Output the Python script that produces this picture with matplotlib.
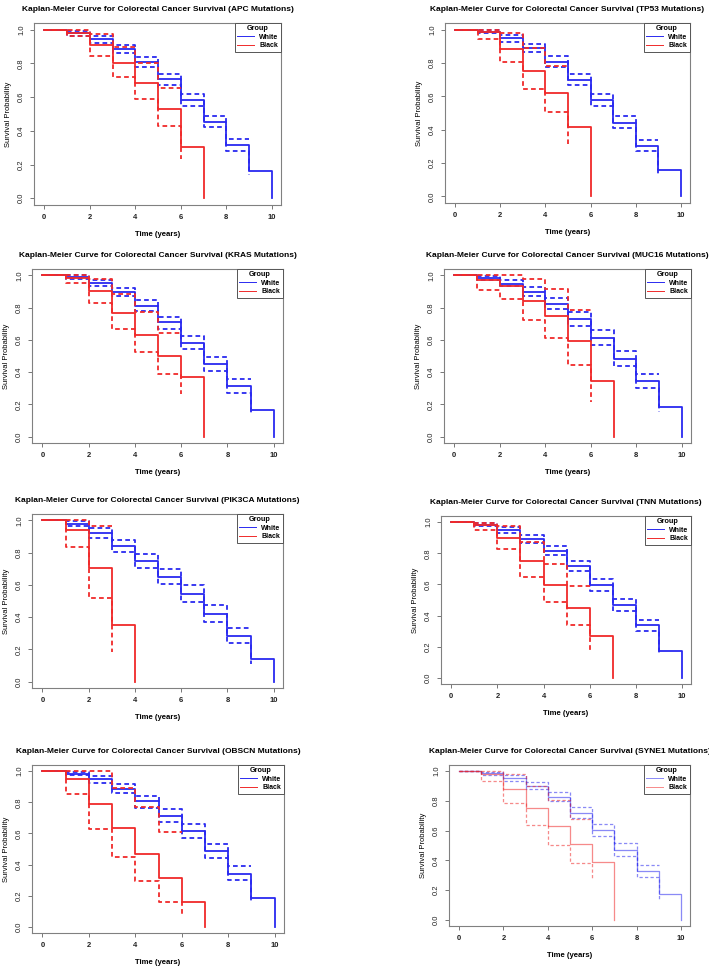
import numpy as np
import matplotlib
matplotlib.use('Agg')
import matplotlib.pyplot as plt
from matplotlib.lines import Line2D
from matplotlib import rcParams
rcParams['font.family'] = 'sans-serif'
rcParams['font.sans-serif'] = ['Liberation Sans', 'DejaVu Sans']

# survival estimates, one value per yearly interval
# (CI arrays: last value is the end stub of the dashed line)
GENES = ['APC', 'TP53', 'KRAS', 'MUC16', 'PIK3CA', 'TNN', 'OBSCN', 'SYNE1']

APC_W = [1, 0.980, 0.943, 0.886, 0.807, 0.706, 0.584, 0.454, 0.314, 0.162]
APC_W_HI = [1, 0.995, 0.963, 0.911, 0.836, 0.740, 0.621, 0.489, 0.351, 0.351]
APC_W_LO = [1, 0.965, 0.923, 0.864, 0.779, 0.671, 0.550, 0.420, 0.282, 0.140]
APC_B = [1, 0.980, 0.909, 0.801, 0.684, 0.529, 0.302]
APC_B_HI = [1, 1.0, 0.974, 0.899, 0.805, 0.653, 0.653]
APC_B_LO = [1, 0.964, 0.844, 0.718, 0.588, 0.426, 0.233]

TP53_W = [1, 0.988, 0.952, 0.890, 0.809, 0.701, 0.580, 0.442, 0.305, 0.157]
TP53_W_HI = [1, 1.0, 0.968, 0.916, 0.841, 0.735, 0.616, 0.480, 0.341, 0.341]
TP53_W_LO = [1, 0.980, 0.928, 0.869, 0.779, 0.667, 0.540, 0.408, 0.273, 0.131]
TP53_B = [1, 0.984, 0.884, 0.755, 0.622, 0.416]
TP53_B_HI = [1, 1.0, 0.978, 0.890, 0.783, 0.783]
TP53_B_LO = [1, 0.944, 0.807, 0.645, 0.504, 0.313]

KRAS_W = [1, 0.990, 0.952, 0.896, 0.812, 0.708, 0.580, 0.449, 0.313, 0.163]
KRAS_W_HI = [1, 1.0, 0.971, 0.923, 0.848, 0.745, 0.622, 0.491, 0.357, 0.357]
KRAS_W_LO = [1, 0.981, 0.933, 0.871, 0.781, 0.670, 0.541, 0.407, 0.273, 0.138]
KRAS_B = [1, 0.985, 0.902, 0.766, 0.633, 0.499, 0.367]
KRAS_B_HI = [1, 1.0, 0.981, 0.883, 0.772, 0.645, 0.645]
KRAS_B_LO = [1, 0.952, 0.831, 0.668, 0.522, 0.386, 0.262]

MUC16_W = [1, 0.984, 0.949, 0.899, 0.825, 0.730, 0.613, 0.484, 0.342, 0.185]
MUC16_W_HI = [1, 0.998, 0.973, 0.928, 0.860, 0.774, 0.660, 0.533, 0.389, 0.389]
MUC16_W_LO = [1, 0.971, 0.932, 0.872, 0.790, 0.687, 0.568, 0.440, 0.300, 0.154]
MUC16_B = [1, 0.969, 0.934, 0.844, 0.749, 0.591, 0.344]
MUC16_B_HI = [1, 1.0, 1.0, 0.977, 0.916, 0.788, 0.788]
MUC16_B_LO = [1, 0.907, 0.854, 0.726, 0.613, 0.444, 0.212]

PIK3CA_W = [1, 0.979, 0.923, 0.844, 0.749, 0.649, 0.546, 0.421, 0.280, 0.139]
PIK3CA_W_HI = [1, 0.996, 0.954, 0.878, 0.793, 0.699, 0.600, 0.475, 0.330, 0.330]
PIK3CA_W_LO = [1, 0.963, 0.890, 0.803, 0.707, 0.604, 0.496, 0.371, 0.237, 0.106]
PIK3CA_B = [1, 0.942, 0.703, 0.353]
PIK3CA_B_HI = [1, 1.0, 0.963, 0.963]
PIK3CA_B_LO = [1, 0.834, 0.521, 0.183]

TNN_W = [1, 0.983, 0.949, 0.893, 0.817, 0.719, 0.599, 0.467, 0.337, 0.171]
TNN_W_HI = [1, 0.998, 0.972, 0.919, 0.849, 0.748, 0.635, 0.507, 0.373, 0.373]
TNN_W_LO = [1, 0.974, 0.930, 0.868, 0.787, 0.684, 0.559, 0.431, 0.303, 0.145]
TNN_B = [1, 0.979, 0.896, 0.748, 0.599, 0.448, 0.267]
TNN_B_HI = [1, 0.998, 0.977, 0.870, 0.733, 0.593, 0.593]
TNN_B_LO = [1, 0.949, 0.825, 0.646, 0.486, 0.341, 0.173]

OBSCN_W = [1, 0.983, 0.948, 0.888, 0.809, 0.714, 0.613, 0.486, 0.340, 0.183]
OBSCN_W_HI = [1, 0.996, 0.968, 0.918, 0.843, 0.759, 0.658, 0.533, 0.389, 0.389]
OBSCN_W_LO = [1, 0.974, 0.927, 0.860, 0.766, 0.673, 0.570, 0.445, 0.299, 0.151]
OBSCN_B = [1, 0.951, 0.789, 0.632, 0.471, 0.314, 0.159]
OBSCN_B_HI = [1, 1.0, 1.0, 0.890, 0.768, 0.611, 0.611]
OBSCN_B_LO = [1, 0.852, 0.628, 0.449, 0.297, 0.159, 0.069]

SYNE1_W = [1, 0.984, 0.953, 0.901, 0.827, 0.717, 0.604, 0.472, 0.326, 0.173]
SYNE1_W_HI = [1, 0.996, 0.975, 0.928, 0.858, 0.757, 0.643, 0.515, 0.369, 0.369]
SYNE1_W_LO = [1, 0.975, 0.935, 0.881, 0.798, 0.685, 0.564, 0.429, 0.292, 0.142]
SYNE1_B = [1, 0.980, 0.876, 0.753, 0.629, 0.510, 0.387]
SYNE1_B_HI = [1, 1.0, 0.978, 0.899, 0.802, 0.680, 0.680]
SYNE1_B_LO = [1, 0.930, 0.784, 0.638, 0.503, 0.382, 0.283]

X_TICKS = [0, 2, 4, 6, 8, 10]
Y_TICKS = [0.0, 0.2, 0.4, 0.6, 0.8, 1.0]

# axes boxes in pixels: left, right, top, bottom
BOXES = [(34, 281, 23, 205), (445, 690, 23, 203),
         (32, 283, 269, 443), (444, 691, 269, 443),
         (32, 283, 514, 688), (441, 691, 516, 684),
         (32, 284, 765, 933), (449, 690, 765, 926)]

W, H = 709, 966
BLUE = '#2a2af0'
RED = '#f02a2a'


def km_panel(ax, gene, faded=False):
    g = globals()
    alpha = 0.55 if faded else 1.0
    lw = 0.9 if faded else 1.3
    for key, color in [('W', BLUE), ('B', RED)]:
        s = g[f'{gene}_{key}']
        hi = g[f'{gene}_{key}_HI']
        lo = g[f'{gene}_{key}_LO']
        t = np.arange(len(s) + 1)
        ax.step(t, list(s) + [0], where='post', color=color, lw=lw, alpha=alpha)
        tc = np.arange(len(hi))
        for ci in (hi, lo):
            ax.step(tc, ci, where='post', color=color, lw=lw, alpha=alpha,
                    dashes=(2.6, 1.8))
    ax.set_xlim(-0.45, 10.4)
    ax.set_ylim(-0.04, 1.04)
    ax.set_xticks(X_TICKS)
    ax.set_yticks(Y_TICKS)
    ax.set_yticklabels([f'{v:.1f}' for v in Y_TICKS], rotation=90, va='center')
    for sp in ax.spines.values():
        sp.set_color('#808080')
        sp.set_linewidth(0.8)
    ax.tick_params(direction='out', length=3, width=0.6, color='#606060',
                   labelsize=5.5, pad=3.5, labelcolor='#222222')
    for lab in ax.get_xticklabels():
        lab.set_fontweight('bold')
    ax.set_title(f'Kaplan-Meier Curve for Colorectal Cancer Survival ({gene} Mutations)',
                 fontsize=6.05, fontweight='bold', pad=8.5)
    ax.set_xlabel('Time (years)', fontsize=5.6, fontweight='bold', labelpad=7)
    ax.set_ylabel('Survival Probability', fontsize=5.5, labelpad=4)
    handles = [Line2D([], [], color=BLUE, lw=0.7, alpha=alpha),
               Line2D([], [], color=RED, lw=0.7, alpha=alpha)]
    leg = ax.legend(handles, ['White', 'Black'], title='Group', loc='upper right',
                    fontsize=5, title_fontsize=5.2, borderaxespad=0,
                    fancybox=False, framealpha=1, edgecolor='#555555',
                    handlelength=2.4, handletextpad=0.8, borderpad=0.35,
                    labelspacing=0.2)
    leg.get_frame().set_linewidth(0.7)
    for txt in leg.get_texts():
        txt.set_fontweight('bold')
    leg.get_title().set_fontweight('bold')


fig = plt.figure(figsize=(W / 100, H / 100), dpi=100)
for gene, (l, r, t, b) in zip(GENES, BOXES):
    ax = fig.add_axes([l / W, 1 - b / H, (r - l) / W, (b - t) / H])
    km_panel(ax, gene, faded=(gene == 'SYNE1'))

fig.savefig('out.png', dpi=100)
